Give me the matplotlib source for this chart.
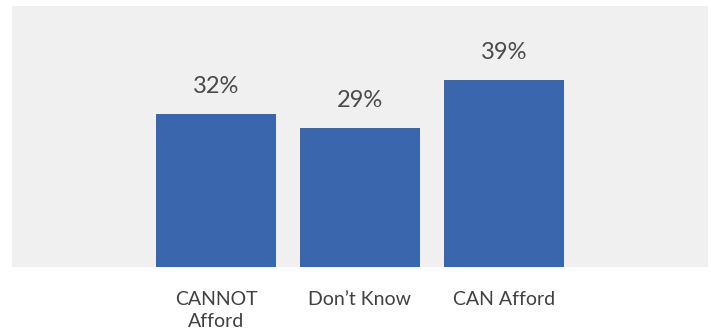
import matplotlib
matplotlib.use("Agg")
import matplotlib.pyplot as plt

categories = ["CANNOT\nAfford", "Don\u2019t Know", "CAN Afford"]
values = [32, 29, 39]
value_labels = ["32%", "29%", "39%"]

bar_color = "#3A66AE"
bg_color = "#F0F0F0"
text_color = "#404040"

plt.rcParams["font.family"] = ["Lato", "DejaVu Sans"]

fig = plt.figure(figsize=(7.11, 3.34), dpi=100)
fig.patch.set_facecolor("white")

# plot area covers the gray panel; bars sit on its bottom edge
ax = fig.add_axes([12 / 711, 67 / 334, 696 / 711, 261 / 334])
ax.set_facecolor(bg_color)

x = range(len(values))
bars = ax.bar(x, values, width=120 / 144, color=bar_color)

for b, lab in zip(bars, value_labels):
    ax.annotate(lab, (b.get_x() + b.get_width() / 2, b.get_height()),
                xytext=(0, 15), textcoords="offset points",
                ha="center", va="baseline", fontsize=17, color="#4a4a4a")

ax.set_xlim(-1.4167, 3.4167)
ax.set_ylim(0, 54.5)
ax.set_xticks(list(x))
ax.set_xticklabels(categories, fontsize=14, color=text_color, linespacing=1.4)
ax.tick_params(axis="x", length=0, pad=17)
ax.set_yticks([])
for s in ax.spines.values():
    s.set_visible(False)

fig.savefig("out.png", dpi=100, facecolor="white")
